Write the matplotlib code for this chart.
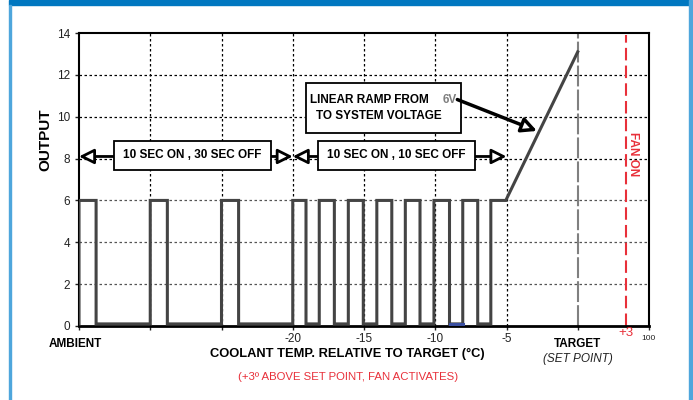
import matplotlib
matplotlib.use("Agg")
import matplotlib.pyplot as plt
from matplotlib.patches import Rectangle

plt.rcParams['font.family'] = ['Liberation Sans', 'DejaVu Sans']

# pulse edges (coolant temp relative to target, degC)
on_starts = [-35, -30, -25, -20, -18.14, -16.1, -14.1, -12.1, -10.09, -8.07, -6.1]
on_ends = [-33.8, -28.8, -23.8, -19.07, -17.08, -15.05, -13.05, -11.07, -9.0, -7.02, -5.05]
high_level = 6
low_level = 0.1
ramp_end = (0, 13.1)
blue_segment = (-9.0, -8.07)

target_x = 0
fan_on_x = 3.4
grid_x = [-30, -25, -20, -15, -10, -5]
grid_y = [2, 4, 6, 8, 10, 12]
x_ticks = [-35, -30, -25, -20, -15, -10, -5, 0, 5]
x_labels = ['', '', '', '-20', '-15', '-10', '-5', '', '']
y_ticks = [0, 2, 4, 6, 8, 10, 12, 14]

line_col = '#444444'
red = '#e8303a'

fig = plt.figure(figsize=(6.93, 4.0), dpi=100)
ax = fig.add_axes([79 / 693, 74 / 400, 570 / 693, 293 / 400])
ax.set_xlim(-35, 5)
ax.set_ylim(0, 14)

# grid
for gx in grid_x:
    ax.axvline(gx, color='black', lw=0.9, ls=(0, (2, 2)), zorder=1)
for gy in grid_y:
    c = 'black' if gy >= 8 else '#555555'
    ax.axhline(gy, color=c, lw=0.9, ls=(0, (2, 2)), zorder=1)

# pulse train + ramp
xs, ys = [], []
for i, (s, e) in enumerate(zip(on_starts, on_ends)):
    xs += [s, s, e]
    ys += [low_level, high_level, high_level]
    if i < len(on_starts) - 1:
        xs.append(e)
        ys.append(low_level)
xs.append(ramp_end[0])
ys.append(ramp_end[1])
ax.plot(xs, ys, color=line_col, lw=2.2, zorder=3, solid_joinstyle='miter')
ax.plot(blue_segment, [low_level, low_level], color='#3a4fa0', lw=2.2, zorder=4)

# target and fan lines
ax.plot([target_x, target_x], [0, 14], color='#808080', lw=1.5,
        dashes=(10, 1.5), zorder=2)
ax.plot([fan_on_x, fan_on_x], [0, 13.9], color=red, lw=1.5,
        dashes=(6, 2.5), zorder=2)

# spines / ticks
ax.spines['top'].set_linestyle((0, (1.5, 1)))
ax.spines['top'].set_linewidth(1.5)
ax.spines['right'].set_linewidth(1.5)
ax.spines['left'].set_linewidth(1.5)
ax.spines['bottom'].set_linewidth(2)
ax.set_yticks(y_ticks)
ax.set_xticks(x_ticks)
ax.set_xticklabels(x_labels)
ax.tick_params(axis='both', labelsize=8.5, length=3, width=1, colors='#222222')
ax.tick_params(axis='x', pad=2)

# annotation boxes
box_kw = dict(fill=True, fc='white', ec='black', lw=1.3, zorder=6)
ax.add_patch(Rectangle((-32.54, 7.45), 11.01, 1.39, **box_kw))
ax.add_patch(Rectangle((-18.23, 7.45), 11.02, 1.39, **box_kw))
ax.add_patch(Rectangle((-19.07, 9.23), 10.86, 2.39, **box_kw))

txt = dict(fontsize=8.5, fontweight='bold', zorder=7)
ax.text(-27.03, 8.15, '10 SEC ON , 30 SEC OFF', ha='center', va='center', **txt)
ax.text(-12.72, 8.15, '10 SEC ON , 10 SEC OFF', ha='center', va='center', **txt)
ax.text(-18.8, 10.8, 'LINEAR RAMP FROM', ha='left', va='center', **txt)
ax.text(-9.48, 10.8, '6V', ha='left', va='center', color='#808080', **txt)
ax.text(-18.4, 10.02, 'TO SYSTEM VOLTAGE', ha='left', va='center', **txt)

arrow = dict(arrowstyle='-|>,head_length=0.9,head_width=0.45', fc='white',
             ec='black', lw=2, shrinkA=0, shrinkB=0, mutation_scale=10)
arrow_y = 8.1
for x0, x1 in [(-32.54, -35), (-21.53, -20), (-18.23, -20), (-7.21, -5)]:
    ax.annotate('', xy=(x1, arrow_y), xytext=(x0, arrow_y),
                arrowprops=arrow, zorder=5, annotation_clip=False)
ramp_arrow = dict(arrow, lw=2.5)
ax.annotate('', xy=(-2.86, 9.32), xytext=(-8.45, 10.82),
            arrowprops=ramp_arrow, zorder=8)

ax.text(3.86, 8.2, 'FAN ON', rotation=270, ha='center', va='center',
        color=red, fontsize=8.5, fontweight='bold')

# labels under the axis
ax.text(-35.28, -0.86, 'AMBIENT', ha='center', va='center', fontsize=8.5,
        fontweight='bold', clip_on=False)
ax.text(0, -0.86, 'TARGET', ha='center', va='center', fontsize=8.5,
        fontweight='bold', clip_on=False)
ax.text(0, -1.6, '(SET POINT)', ha='center', va='center', fontsize=8.5,
        style='italic', color='#222222', clip_on=False)
ax.text(fan_on_x, -0.33, '+3', ha='center', va='center', fontsize=9.5,
        color=red, clip_on=False)
ax.text(4.95, -0.6, '100', ha='center', va='center', fontsize=6,
        color='#222222', clip_on=False)

fig.text(347.5 / 693, 1 - 354 / 400, 'COOLANT TEMP. RELATIVE TO TARGET (°C)',
         ha='center', va='center', fontsize=9.3, fontweight='bold')
fig.text(348.5 / 693, 1 - 377 / 400, '(+3º ABOVE SET POINT, FAN ACTIVATES)',
         ha='center', va='center', fontsize=8.2, color=red)
fig.text(45 / 693, 1 - 140 / 400, 'OUTPUT', rotation=90, ha='center',
         va='center', fontsize=11, fontweight='bold',
         family=['Liberation Sans Narrow', 'Liberation Sans'])

# frame
fig.patches.append(Rectangle((9 / 693, 1 - 5 / 400), 680 / 693, 5 / 400,
                             transform=fig.transFigure, color='#0077c0'))
fig.patches.append(Rectangle((9 / 693, 0), 2 / 693, 1 - 5 / 400,
                             transform=fig.transFigure, color='#4ea6dc'))
fig.patches.append(Rectangle((689 / 693, 0), 3 / 693, 1,
                             transform=fig.transFigure, color='#4ea6dc'))

fig.savefig('out.png', dpi=100)
